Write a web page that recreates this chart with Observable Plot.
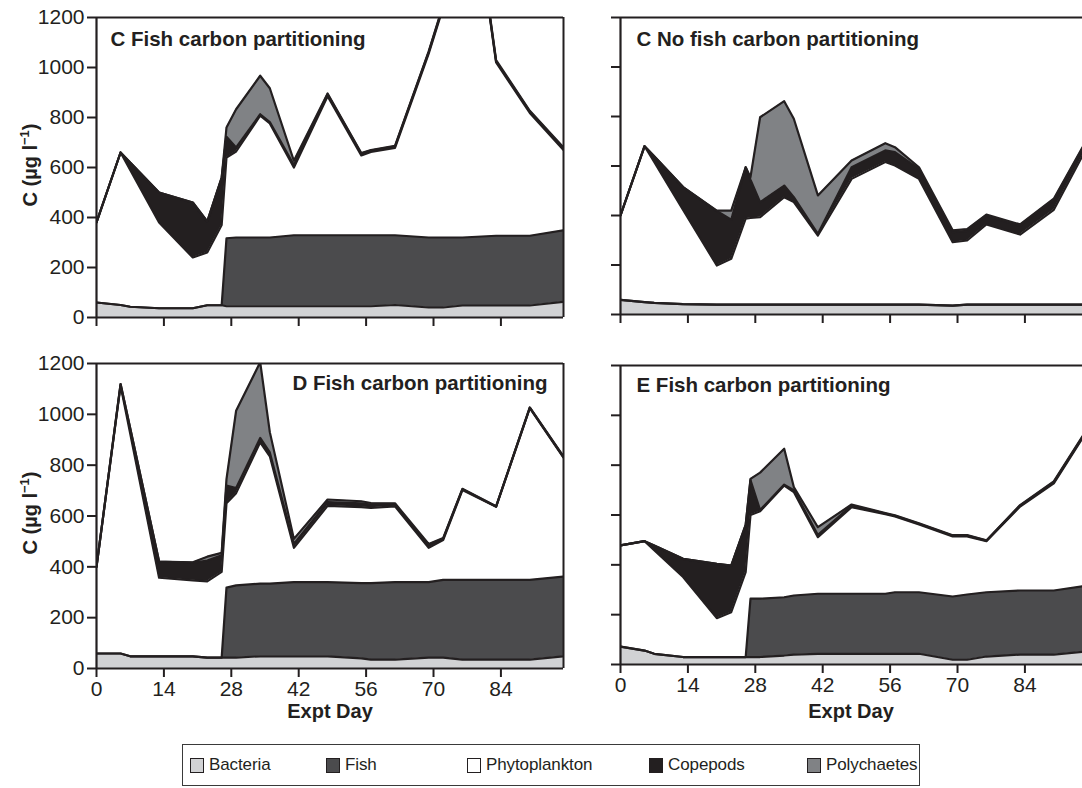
<!DOCTYPE html>
<html><head><meta charset="utf-8">
<script src="https://cdn.jsdelivr.net/npm/d3@7"></script>
<script src="https://cdn.jsdelivr.net/npm/@observablehq/plot@0.6"></script>
<style>
html,body{margin:0;padding:0;background:#fff;overflow:hidden}
#wrap{position:relative;width:1082px;height:788px;overflow:hidden;font-family:"Liberation Sans",Arial,Helvetica,sans-serif;color:#231f20}
.panel{position:absolute}
.ytitle{position:absolute;font-weight:bold;font-size:20px;white-space:nowrap;transform:translate(-50%,-50%) rotate(-90deg);}
.ytitle sup{font-size:13px;line-height:0}
.xtitle{position:absolute;font-weight:bold;font-size:20px;white-space:nowrap;transform:translate(-50%,-50%);}
#legend{position:absolute;left:182px;top:744px;width:738px;height:42px;border:1.5px solid #3a3a3a;box-sizing:border-box}
.litem{position:absolute;top:0;height:100%;display:flex;align-items:center;font-size:17px;letter-spacing:-0.1px}
.lsw{width:12px;height:13px;border:1.5px solid #231f20;margin-right:5px}
</style></head>
<body><div id="wrap"></div>
<script>
const days = [0,5,7,13,20,23,26,27,29,34,36,41,48,55,57,62,69,72,76,83,90,97];
const series = ["Bacteria","Fish","Phytoplankton","Copepods","Polychaetes"];
const colors = ["#d1d2d4","#4b4b4d","#ffffff","#231f20","#808285"];
const yTicks = [0,200,400,600,800,1000,1200];
const xTicks = [0,14,28,42,56,70,84];

// C Fish
const cFishBacteria = [60,50,43,37,37,49,49,45,45,45,45,45,45,45,45,50,40,40,48,48,48,63];
const cFishFish = [0,0,0,0,0,0,0,272,275,275,275,284,284,284,284,279,280,280,272,279,279,286];
const cFishPhyto = [320,610,547,343,203,211,321,323,344,487,456,271,556,319,333,349,735,920,1670,693,491,321];
const cFishCopepods = [0,0,30,120,220,124,190,83,16,6,6,10,8,7,6,6,7,6,5,5,6,6];
const cFishPolychaetes = [0,0,0,0,0,0,0,37,153,154,135,17,3,3,2,3,3,4,5,5,3,4];

// C No fish
const cNoFishBacteria = [59,50,47,42,40,40,40,40,40,40,40,40,40,40,40,40,36,40,40,40,40,40];
const cNoFishFish = [0,0,0,0,0,0,0,0,0,0,0,0,0,0,0,0,0,0,0,0,0,0];
const cNoFishPhyto = [341,630,569,381,158,185,347,350,353,434,414,279,508,576,562,508,256,259,324,283,383,640];
const cNoFishCopepods = [0,0,23,92,220,158,208,155,61,47,20,7,47,47,54,40,41,39,34,35,37,26];
const cNoFishPolychaetes = [0,0,0,0,2,37,0,10,343,341,317,155,27,29,20,7,7,7,6,6,8,6];

// D Fish
const dFishBacteria = [59,59,48,48,48,43,43,43,43,48,48,48,48,40,35,35,43,43,35,35,35,48];
const dFishFish = [0,0,0,0,0,0,0,275,284,286,286,292,292,296,301,305,297,306,314,314,314,314];
const dFishPhyto = [341,1054,876,309,299,300,337,332,363,556,501,135,300,299,296,298,135,156,353,287,675,468];
const dFishCopepods = [0,6,21,64,69,82,65,70,20,17,15,15,15,15,13,7,10,5,3,1,2,2];
const dFishPolychaetes = [0,0,0,0,2,15,10,25,304,298,80,20,10,8,6,5,5,3,2,1,1,2];

// E Fish
const eFishBacteria = [72,56,43,30,30,30,30,30,30,36,40,43,43,43,43,43,19,19,32,40,40,53];
const eFishFish = [0,0,0,0,0,0,0,234,234,234,237,241,241,241,247,247,254,262,258,257,257,264];
const eFishPhyto = [406,439,416,321,156,180,341,336,351,448,415,227,347,319,304,272,241,233,205,337,430,623];
const eFishCopepods = [0,0,19,73,218,187,189,140,5,4,8,9,7,3,3,3,3,3,2,3,4,4];
const eFishPolychaetes = [0,0,0,0,0,0,0,5,150,144,12,31,4,2,2,2,2,2,1,3,4,4];

const INK = "#231f20";
const FONT = "'Liberation Sans', Arial, Helvetica, sans-serif";

function rowsOf(arrs) {
  const rows = [];
  arrs.forEach((vals, i) => vals.forEach((v, j) => rows.push({day: days[j], series: series[i], value: v})));
  return rows;
}

function panel(o) {
  const rows = rowsOf(o.values);
  const marks = [
    Plot.areaY(rows, {x: "day", y: "value", z: "series", fill: "series", order: series, clip: true}),
    Plot.lineY(rows, Plot.stackY2({x: "day", y: "value", z: "series", order: series, stroke: INK, strokeWidth: 2.2, clip: true})),
    Plot.axisY({ticks: yTicks, tickSize: 9, tickPadding: 3, strokeWidth: 2, fontSize: 21, label: null, tickFormat: o.yLabels ? (d => String(d)) : (() => "")}),
    Plot.axisX({ticks: xTicks, tickSize: 9, tickPadding: 4, strokeWidth: 2, fontSize: 21, label: null, tickFormat: o.xLabels ? (d => String(d)) : (() => "")}),
    Plot.ruleY([1200], {stroke: INK, strokeWidth: 2}),
    Plot.ruleY([0], {stroke: INK, strokeWidth: 2}),
    Plot.ruleX([0], {stroke: INK, strokeWidth: 2.2}),
  ];
  if (o.rightFrame) marks.push(Plot.ruleX([97], {stroke: INK, strokeWidth: 2}));
  marks.push(Plot.text([o.title], {frameAnchor: o.titleAnchor, dx: o.titleDx, dy: o.titleDy, text: d => d, fontWeight: "bold", fontSize: 20.5, fill: INK, textAnchor: o.titleAnchor === "top-right" ? "end" : "start", lineAnchor: "top"}));
  const svg = Plot.plot({
    width: o.width, height: o.height,
    marginLeft: o.mL, marginRight: o.mR, marginTop: o.mT, marginBottom: o.mB,
    x: {domain: [0, 97]},
    y: {domain: [0, 1200]},
    color: {domain: series, range: colors},
    style: {fontFamily: FONT, color: INK, background: "transparent", overflow: "visible"},
    marks
  });
  svg.classList.add("panel");
  svg.style.left = o.left + "px";
  svg.style.top = o.top + "px";
  return svg;
}

const wrap = document.getElementById("wrap");
wrap.appendChild(panel({values: [cFishBacteria, cFishFish, cFishPhyto, cFishCopepods, cFishPolychaetes], title: "C Fish carbon partitioning", titleAnchor: "top-left", titleDx: 14, titleDy: 14, yLabels: true, xLabels: false, rightFrame: true, left: 0, top: 0, width: 570, height: 345, mL: 96, mR: 7, mT: 17, mB: 28}));
wrap.appendChild(panel({values: [cNoFishBacteria, cNoFishFish, cNoFishPhyto, cNoFishCopepods, cNoFishPolychaetes], title: "C No fish carbon partitioning", titleAnchor: "top-left", titleDx: 16, titleDy: 14, yLabels: false, xLabels: false, rightFrame: false, left: 600, top: 0, width: 490, height: 345, mL: 20, mR: 3, mT: 17, mB: 31}));
wrap.appendChild(panel({values: [dFishBacteria, dFishFish, dFishPhyto, dFishCopepods, dFishPolychaetes], title: "D Fish carbon partitioning", titleAnchor: "top-right", titleDx: -16, titleDy: 12, yLabels: true, xLabels: true, rightFrame: true, left: 0, top: 345, width: 570, height: 380, mL: 96, mR: 7, mT: 18, mB: 57}));
wrap.appendChild(panel({values: [eFishBacteria, eFishFish, eFishPhyto, eFishCopepods, eFishPolychaetes], title: "E Fish carbon partitioning", titleAnchor: "top-left", titleDx: 16, titleDy: 12, yLabels: false, xLabels: true, rightFrame: false, left: 600, top: 345, width: 490, height: 380, mL: 20, mR: 3, mT: 20, mB: 61}));

function addDiv(cls, html, x, y) {
  const d = document.createElement("div");
  d.className = cls; d.innerHTML = html;
  d.style.left = x + "px"; d.style.top = y + "px";
  wrap.appendChild(d);
}
addDiv("ytitle", "C (µg l<sup>−1</sup>)", 30, 165);
addDiv("ytitle", "C (µg l<sup>−1</sup>)", 30, 513);
addDiv("xtitle", "Expt Day", 330, 711);
addDiv("xtitle", "Expt Day", 851, 711);

const legend = document.createElement("div");
legend.id = "legend";
wrap.appendChild(legend);
const legendX = [7, 143, 284, 466, 624];
series.forEach((s, i) => {
  const it = document.createElement("div");
  it.className = "litem";
  it.style.left = legendX[i] + "px";
  const sw = document.createElement("div");
  sw.className = "lsw";
  sw.style.background = colors[i];
  it.appendChild(sw);
  const t = document.createElement("span");
  t.textContent = s;
  it.appendChild(t);
  legend.appendChild(it);
});
</script>
</body></html>
